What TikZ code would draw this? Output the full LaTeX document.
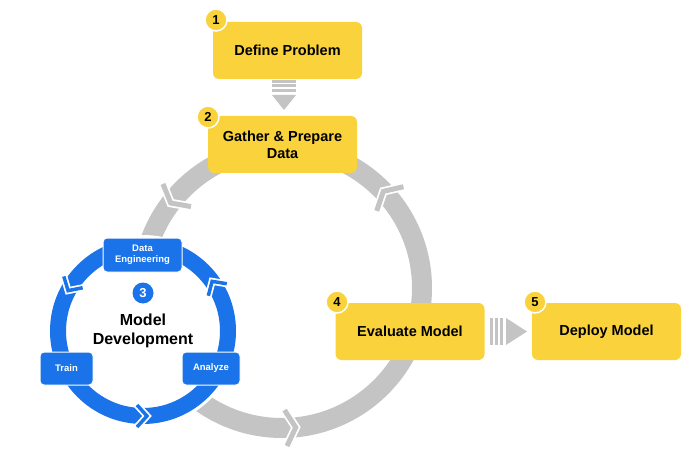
\documentclass[tikz,border=0pt]{standalone}
\usepackage{fontspec}
\setmainfont{Liberation Sans}
\begin{document}
\definecolor{ylw}{HTML}{F9D23C}
\definecolor{gry}{HTML}{C4C4C4}
\definecolor{blu}{HTML}{1A73E8}
\newcommand\mychev[6]{% center, radius, angle, color, half-size, width
  \begin{scope}[shift={($(#1)+(#3:#2)$)},rotate=#3+90]
    \draw[white,line width=#6+3.5,line join=miter] (-6,-#5)--(4,0)--(-6,#5);
    \draw[#4,line width=#6,line join=miter] (-6,-#5)--(4,0)--(-6,#5);
  \end{scope}}
\begin{tikzpicture}[x=1pt,y=1pt,
  ybox/.style={fill=ylw,rounded corners=6,minimum width=149,minimum height=57,align=center,font=\fontsize{14.5}{17}\selectfont\bfseries},
  badge/.style={circle,fill=ylw,draw=white,line width=1.5,minimum size=22,inner sep=0,font=\fontsize{13}{13}\selectfont\bfseries},
  bbox/.style={fill=blu,draw=white,line width=1,rounded corners=4,text=white,align=center,font=\fontsize{9.5}{11}\selectfont\bfseries},
]
\usetikzlibrary{calc}
\useasboundingbox (0,0) rectangle (700,450);
\fill[white] (0,0) rectangle (700,450);
\coordinate (G) at (282,162);
\coordinate (B) at (143,119);
% grey ring
\draw[gry,line width=20] (G) circle (140);
\mychev{G}{140}{141}{gry}{18}{5}
\mychev{G}{140}{42}{gry}{18}{5}
\mychev{G}{140}{-86}{gry}{18}{5}
% blue ring
\fill[white] (B) circle (96);
\draw[blu,line width=16] (B) circle (85);
\mychev{B}{85}{149}{blu}{11}{3.5}
\mychev{B}{85}{33}{blu}{11}{3.5}
\mychev{B}{85}{-90}{blu}{11}{3.5}
% yellow boxes
\node[ybox] (def) at (287.5,399.5) {Define Problem};
\node[ybox] (gat) at (282.5,305.5) {Gather \& Prepare\\Data};
\node[ybox] (eva) at (410,118.5) {Evaluate Model};
\node[ybox] (dep) at (606.5,118.5) {Deploy Model};
\node[badge] (b1) at (216,430) {1};
\node[badge] (b2) at (208,333) {2};
\node[badge] (b4) at (337,148) {4};
\node[badge] (b5) at (535,148) {5};
% down arrow
\foreach \yy in {367,362.5,358} \fill[gry] (272,\yy) rectangle (296,\yy+3);
\fill[gry] (272,355) -- (296,355) -- (284,340) -- cycle;
% right arrow
\foreach \xx in {490,495,500} \fill[gry] (\xx,105) rectangle (\xx+3,132);
\fill[gry] (506,132) -- (506,105) -- (527,118.5) -- cycle;
% blue boxes
\node[bbox,minimum width=79,minimum height=34] (de) at (142.5,195) {Data\\Engineering};
\node[bbox,minimum width=53,minimum height=33] (tr) at (66.5,81.5) {Train};
\node[bbox,minimum width=58,minimum height=33] (an) at (211,81.5) {Analyze};
\node[circle,fill=blu,minimum size=21,inner sep=0,text=white,font=\fontsize{13}{13}\selectfont\bfseries] (b3) at (143,157) {3};
\node[align=center,font=\fontsize{16}{19}\selectfont\bfseries] (md) at (143,119) {Model\\Development};
\end{tikzpicture}
\end{document}
